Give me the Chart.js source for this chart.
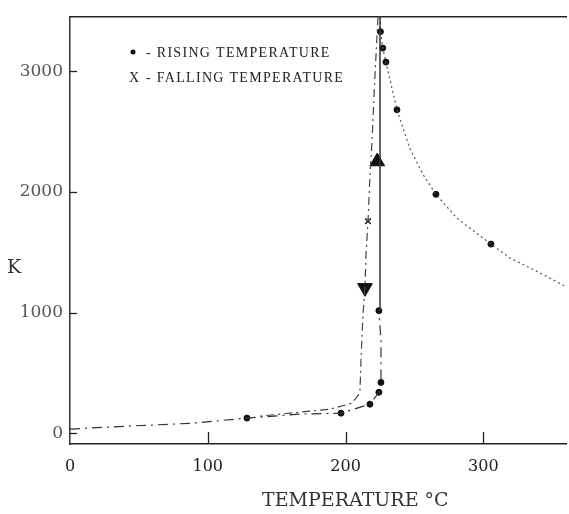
<!DOCTYPE html>
<html>
<head>
<meta charset="utf-8">
<script src="https://cdn.jsdelivr.net/npm/chart.js@4/dist/chart.umd.min.js"></script>
<style>
  body { margin: 0; background: #fff; }
  #wrap { width: 569px; height: 514px; }
</style>
</head>
<body>
<div id="wrap"><canvas id="kChart" width="569" height="514"></canvas></div>
<script>
// tick values
const xTicks = [0, 100, 200, 300];
const yTicks = [0, 1000, 2000, 3000];

// rising temperature: slow climb along the bottom (dash-dot)
const riseLowT = [0, 43.5, 89.3, 128.4, 166.9, 196.7, 217.7, 224.2, 225.7, 225.7, 224.2];
const riseLowK = [34, 59, 83, 125, 158, 166, 240, 339, 421, 768, 1016];

// rising temperature: the jump up (solid)
const riseJumpT = [225, 225];
const riseJumpK = [1016, 3450];

// rising temperature: fall-off above the peak (dotted)
const riseDecayT = [225, 225.3, 227, 229.3, 237.3, 246.7, 256.2, 265.6, 280.8, 290.3, 305.5, 319.3, 341.1, 360];
const riseDecayK = [3450, 3330, 3194, 3078, 2682, 2360, 2146, 1981, 1783, 1700, 1568, 1453, 1329, 1215];

// measured dots (rising)
const riseDotT = [128.4, 196.7, 217.7, 224.2, 225.7, 224.2, 225.3, 227, 229.3, 237.3, 265.6, 305.5];
const riseDotK = [125, 166, 240, 339, 421, 1016, 3330, 3194, 3078, 2682, 1981, 1568];

// falling temperature curve (dash-dot)
const fallT = [223.5, 221.3, 219.2, 217.7, 216.3, 214.8, 214.1, 212.6, 211.2, 210.4, 204.6, 188.7, 166.9, 137.9];
const fallK = [3450, 2955, 2418, 2129, 1758, 1469, 1205, 974, 603, 331, 248, 199, 174, 141];

// falling "X" mark
const fallMarkT = [216.3];
const fallMarkK = [1758];

// direction arrows
const upArrowT = [223];
const upArrowK = [2253];
const downArrowT = [214.1];
const downArrowK = [1205];

function pts(xs, ys) {
    return xs.map((x, i) => ({ x: x, y: ys[i] }));
}

// inward tick marks, placed with the chart's own scales
const innerTicks = {
    id: 'innerTicks',
    afterDraw(chart) {
        const c = chart.ctx;
        const xs = chart.scales.x, ys = chart.scales.y;
        const area = chart.chartArea;
        c.save();
        c.strokeStyle = '#222';
        c.lineWidth = 1.3;
        xTicks.forEach(v => {
            if (v === 0) return;
            const px = Math.round(xs.getPixelForValue(v)) + 0.5;
            c.beginPath();
            c.moveTo(px, area.bottom);
            c.lineTo(px, area.bottom - 12);
            c.stroke();
        });
        yTicks.forEach(v => {
            const py = Math.round(ys.getPixelForValue(v)) + 0.5;
            c.beginPath();
            c.moveTo(area.left, py);
            c.lineTo(area.left + 7, py);
            c.stroke();
        });
        c.restore();
    }
};

// texts that sit at fixed spots (legend, axis titles)
const textPlugin = {
    id: 'textPlugin',
    afterDraw(chart) {
        const c = chart.ctx;
        c.save();
        // legend
        c.fillStyle = '#111';
        c.beginPath();
        c.arc(133, 52, 2.5, 0, Math.PI * 2);
        c.fill();
        c.font = '14px "Liberation Serif"';
        c.letterSpacing = '1.3px';
        c.textBaseline = 'alphabetic';
        c.textAlign = 'left';
        c.fillStyle = '#222';
        c.fillText('- RISING TEMPERATURE', 146, 57);
        c.fillText('X', 129, 82);
        c.fillText('- FALLING TEMPERATURE', 146, 82);
        c.letterSpacing = '0px';
        // axis titles
        c.fillStyle = '#333';
        c.font = '19px "DejaVu Serif"';
        c.fillText('K', 7, 273);
        c.fillText('TEMPERATURE °C', 262, 506);
        c.restore();
    }
};

const ctx = document.getElementById('kChart').getContext('2d');
const kChart = new Chart(ctx, {
    type: 'scatter',
    data: {
        datasets: [
            {
                data: pts(riseLowT, riseLowK),
                showLine: true,
                borderColor: '#333',
                borderWidth: 1.2,
                borderDash: [10, 5, 2, 5],
                pointRadius: 0
            },
            {
                data: pts(riseJumpT, riseJumpK),
                showLine: true,
                borderColor: '#333',
                borderWidth: 1.5,
                pointRadius: 0
            },
            {
                data: pts(riseDecayT, riseDecayK),
                showLine: true,
                borderColor: '#555',
                borderWidth: 1.2,
                borderDash: [2, 3],
                pointRadius: 0
            },
            {
                data: pts(fallT, fallK),
                showLine: true,
                borderColor: '#444',
                borderWidth: 1.2,
                borderDash: [8, 4, 2, 4],
                pointRadius: 0
            },
            {
                data: pts(riseDotT, riseDotK),
                pointRadius: 3,
                pointBackgroundColor: '#111',
                pointBorderColor: '#111'
            },
            {
                data: pts(fallMarkT, fallMarkK),
                pointStyle: 'crossRot',
                pointRadius: 4,
                pointBorderColor: '#222',
                pointBorderWidth: 1.5
            },
            {
                data: pts(upArrowT, upArrowK),
                pointStyle: 'triangle',
                pointRadius: 8.5,
                pointBackgroundColor: '#111',
                pointBorderColor: '#111'
            },
            {
                data: pts(downArrowT, downArrowK),
                pointStyle: 'triangle',
                rotation: 180,
                pointRadius: 8.5,
                pointBackgroundColor: '#111',
                pointBorderColor: '#111'
            }
        ]
    },
    options: {
        responsive: false,
        animation: false,
        layout: {
            autoPadding: false,
            padding: { left: 0, right: 3, top: 0, bottom: 0 }
        },
        plugins: {
            legend: { display: false },
            tooltip: { enabled: false }
        },
        scales: {
            x: {
                type: 'linear',
                position: 'bottom',
                min: 0,
                max: 360,
                afterBuildTicks: function(scale) {
                    scale.ticks = xTicks.map(v => ({ value: v }));
                },
                afterFit: function(scale) {
                    scale.height = 70;
                },
                border: { color: '#222', width: 1.5 },
                grid: { drawOnChartArea: false, drawTicks: false },
                ticks: {
                    padding: 13,
                    color: '#222',
                    font: { family: 'DejaVu Serif', size: 16 }
                }
            },
            x2: {
                type: 'linear',
                position: 'top',
                min: 0,
                max: 360,
                afterFit: function(scale) {
                    scale.height = 15;
                },
                border: { color: '#222', width: 1.5 },
                grid: { display: false },
                ticks: { display: false }
            },
            y: {
                type: 'linear',
                position: 'left',
                min: -90,
                max: 3450,
                afterBuildTicks: function(scale) {
                    scale.ticks = yTicks.map(v => ({ value: v }));
                },
                afterFit: function(scale) {
                    scale.width = 70;
                },
                border: { color: '#333', width: 1.5 },
                grid: { drawOnChartArea: false, drawTicks: false },
                ticks: {
                    padding: 7,
                    color: '#555',
                    format: { useGrouping: false },
                    font: { family: 'DejaVu Serif', size: 17 }
                }
            }
        }
    },
    plugins: [innerTicks, textPlugin]
});
</script>
</body>
</html>
